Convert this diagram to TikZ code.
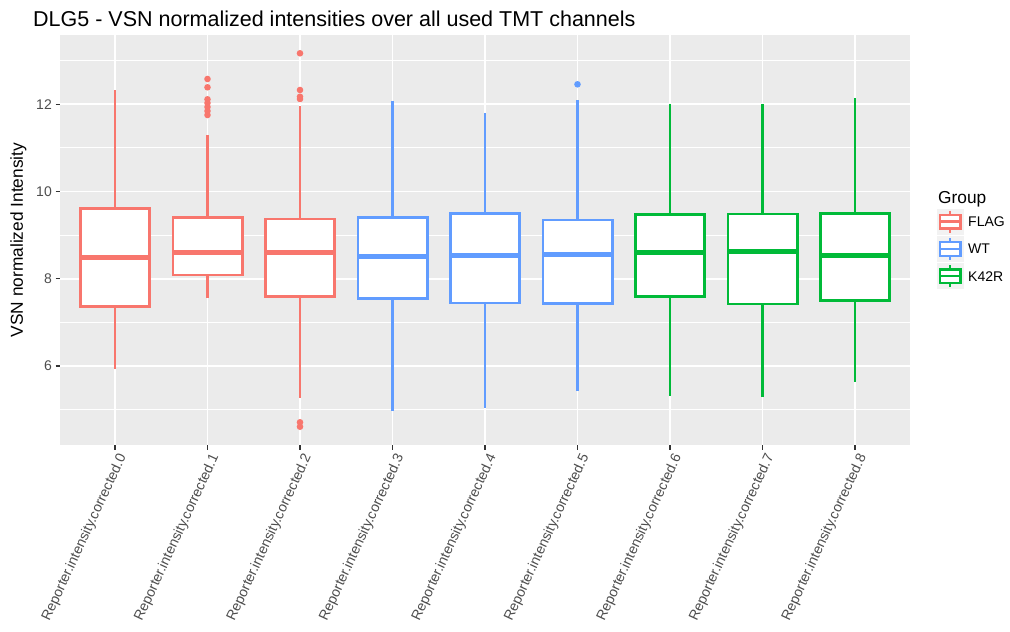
\documentclass[tikz,border=0pt]{standalone}
\usepackage{fontspec}
\setmainfont{Liberation Sans}
\definecolor{flag}{HTML}{F8766D}
\definecolor{wt}{HTML}{619CFF}
\definecolor{kfr}{HTML}{00BA38}
\definecolor{panelbg}{HTML}{EBEBEB}
\definecolor{keybg}{HTML}{F2F2F2}
\definecolor{ticktext}{HTML}{4D4D4D}
\definecolor{tickline}{HTML}{333333}
\tikzset{
  majorgrid/.style={white, line width=1.7pt},
  minorgrid/.style={white, line width=0.9pt},
  boxline/.style={line width=2.6pt},
  medline/.style={line width=5pt},
  outlier/.style={fill, draw=none},
  ticklab/.style={text=ticktext, font=\fontsize{14}{14}\selectfont, inner sep=0pt},
  tickmark/.style={tickline, line width=1.1pt},
}
% \boxplotat{x}{whisker top}{upper quartile}{median}{lower quartile}{whisker bottom}{colour}
\newcommand{\boxplotat}[7]{%
  \draw[#7, boxline] (#1,#2) -- (#1,#3);
  \draw[#7, boxline] (#1,#5) -- (#1,#6);
  \draw[#7, boxline, fill=white] (#1-34.7,#3) rectangle (#1+34.7,#5);
  \draw[#7, medline] (#1-34.7,#4) -- (#1+34.7,#4);
}
\newcommand{\outpt}[3]{\fill[#3] (#1,#2) circle (3.3);}
\begin{document}
\begin{tikzpicture}[x=1pt, y=-1pt]
\useasboundingbox (0,0) rectangle (1010,632);
% panel
\fill[panelbg] (60,35) rectangle (910,445);
% horizontal grid (y = 278.8 - 43.62 (v - 8))
\foreach \v in {5,7,9,11,13} {
  \draw[minorgrid] (60,{278.8-43.62*(\v-8)}) -- (910,{278.8-43.62*(\v-8)});
}
\foreach \v in {6,8,10,12} {
  \draw[majorgrid] (60,{278.8-43.62*(\v-8)}) -- (910,{278.8-43.62*(\v-8)});
}
\foreach \i in {0,...,8} {
  \draw[majorgrid] ({115+92.5*\i},35) -- ({115+92.5*\i},445);
}
% boxes
\boxplotat{115}{90}{208.3}{257.3}{306.7}{369.3}{flag}
\boxplotat{207.5}{135}{217.7}{252}{275}{297.7}{flag}
\boxplotat{300}{106}{219}{252}{296.7}{398.3}{flag}
\boxplotat{392.5}{101}{217.7}{256.3}{298.3}{411}{wt}
\boxplotat{485}{113}{213.5}{255}{303}{408}{wt}
\boxplotat{577.5}{100}{220}{254.3}{303.7}{391}{wt}
\boxplotat{670}{104}{214.3}{252.3}{296.7}{395.7}{kfr}
\boxplotat{762.5}{104}{214}{251}{304}{396.7}{kfr}
\boxplotat{855}{98}{213.7}{255.3}{300.7}{382.3}{kfr}
% outliers
\foreach \y in {79,87.3,99.3,103,107,111,115} {\outpt{207.5}{\y}{flag}}
\foreach \y in {53.3,90,96.7,99,422.3,426.7} {\outpt{300}{\y}{flag}}
\outpt{577.5}{84.3}{wt}
% y axis ticks and labels
\foreach \v in {6,8,10,12} {
  \draw[tickmark] (55.5,{278.8-43.62*(\v-8)}) -- (60,{278.8-43.62*(\v-8)});
  \node[ticklab, anchor=east] (ylab\v) at (52,{278.8-43.62*(\v-8)}) {\v};
}
% x axis ticks and labels
\foreach \i in {0,...,8} {
  \draw[tickmark] ({115+92.5*\i},445) -- ({115+92.5*\i},449.5);
  \node[ticklab, anchor=north east, rotate=65] (xlab\i) at ({115+92.5*\i+2},452) {Reporter.intensity.corrected.\i};
}
% titles
\node[anchor=base west, inner sep=0pt, font=\fontsize{21.5}{21.5}\selectfont] (title) at (33,26.5)
  {DLG5 - VSN normalized intensities over all used TMT channels};
\node[rotate=90, inner sep=0pt, font=\fontsize{17.3}{17.3}\selectfont] (ytitle) at (18.5,240)
  {VSN normalized Intensity};
% legend
\node[anchor=base west, inner sep=0pt, font=\fontsize{17.3}{17.3}\selectfont] (legtitle) at (938,203)
  {Group};
\foreach \c/\t/\k in {flag/FLAG/0, wt/WT/1, kfr/K42R/2} {
  \pgfmathsetmacro{\ky}{208+27.3*\k}
  \draw[white, line width=1pt, fill=keybg] (936.5,\ky) rectangle (964,\ky+27.3);
  \draw[\c, line width=2.4pt] (950.2,\ky+2.7) -- (950.2,\ky+6.8);
  \draw[\c, line width=2.4pt] (950.2,\ky+20.5) -- (950.2,\ky+24.6);
  \draw[\c, line width=2.4pt, fill=white] (940,\ky+6.8) rectangle (960.5,\ky+20.5);
  \draw[\c, line width=2.4pt] (940,\ky+13.65) -- (960.5,\ky+13.65);
  \node[anchor=west, inner sep=0pt, font=\fontsize{14}{14}\selectfont] (leg\k) at (968,\ky+13.65) {\t};
}
\end{tikzpicture}
\end{document}
